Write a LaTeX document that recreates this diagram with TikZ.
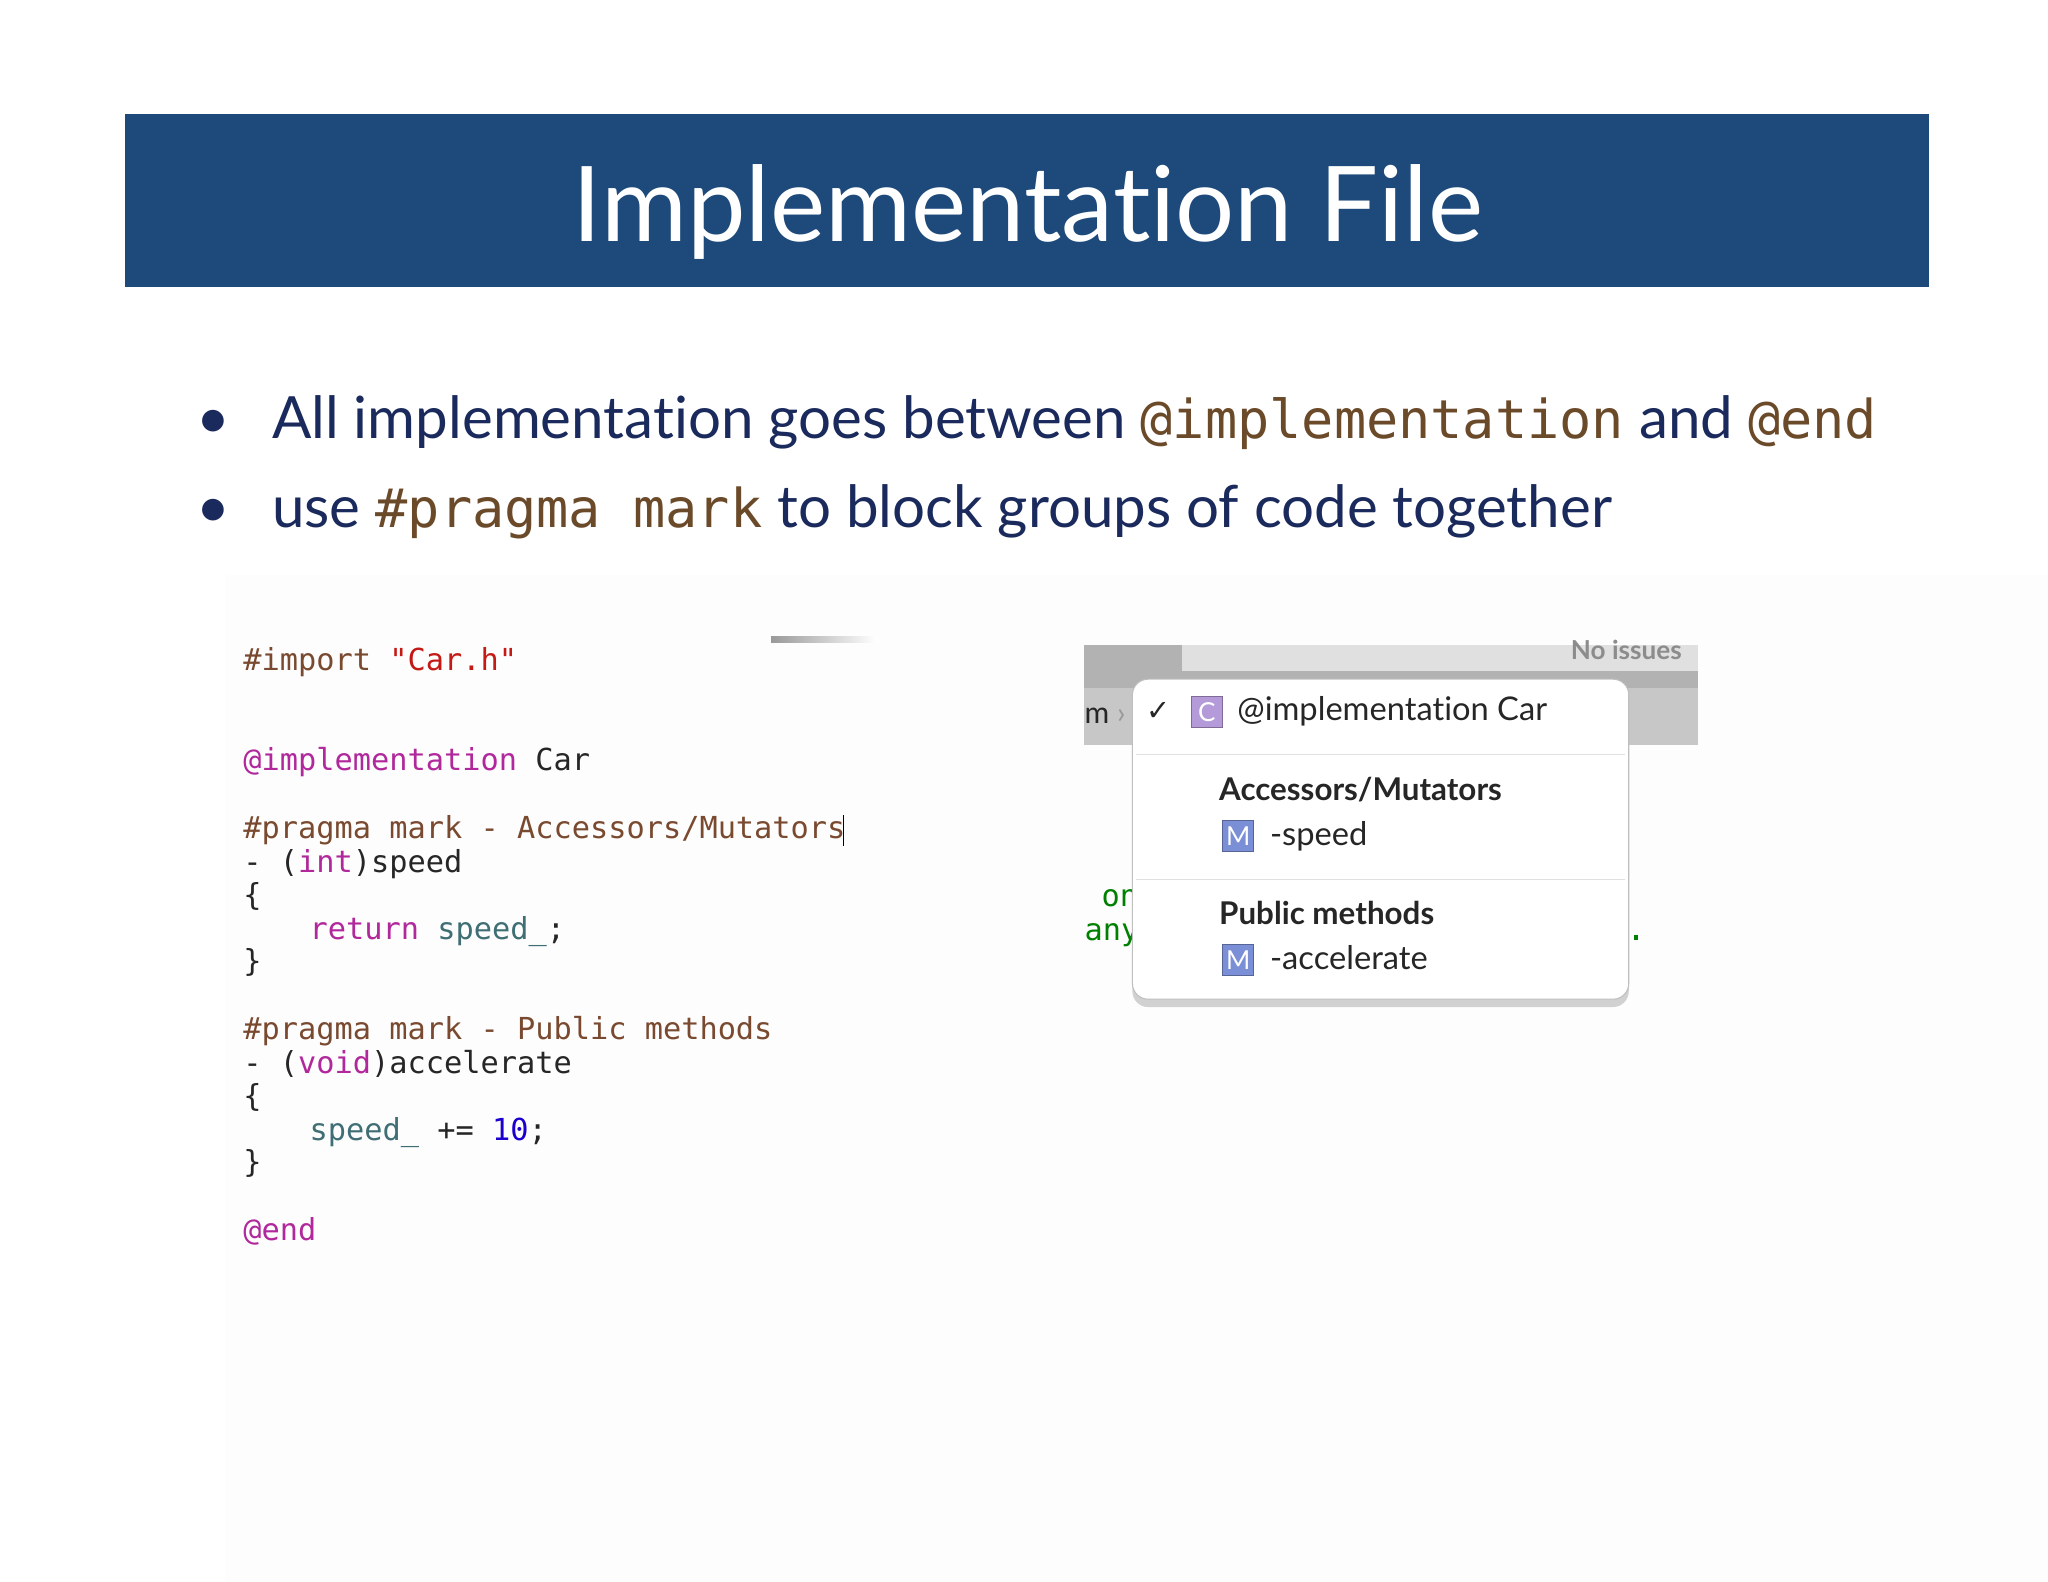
\documentclass[tikz,border=0pt]{standalone}
\usepackage{fontspec}
\setmainfont[Ligatures=NoCommon]{Lato}
\setmonofont{DejaVu Sans Mono}
\newfontfamily\symfont{DejaVu Sans}
\usetikzlibrary{shadows,fadings}
\definecolor{band}{HTML}{1D4A7B}
\definecolor{navy}{HTML}{1B2A5C}
\definecolor{codebrown}{HTML}{6B4A2A}
\definecolor{kwpink}{HTML}{B0289B}
\definecolor{strred}{HTML}{C41A16}
\definecolor{pragma}{HTML}{7A4A30}
\definecolor{teal}{HTML}{3F6E74}
\definecolor{numblue}{HTML}{1C00CF}
\definecolor{iconM}{HTML}{7B8FD6}
\definecolor{iconC}{HTML}{B49AD8}
\tikzset{
 code/.style={anchor=base west,inner sep=0,font=\ttfamily\fontsize{11.6}{14}\selectfont,text=black!85},
 bul/.style={anchor=base west,inner sep=0,font=\fontsize{22.3}{26}\selectfont,text=navy},
 menu/.style={anchor=base west,inner sep=0,font=\fontsize{11.5}{13}\selectfont,text=black!85},
 ico/.style={draw=iconM!70!black,fill=iconM,text=white,minimum size=12pt,inner sep=0,font=\fontsize{10}{10}\selectfont},
}
\begin{document}
\begin{tikzpicture}[x=0.5pt,y=-0.5pt]
\useasboundingbox (0,0) rectangle (1568,1211);
\fill[white] (0,0) rectangle (1568,1211);
\fill[black!0.8] (172,440) rectangle (1568,1211);
\fill[band] (96,87) rectangle (1477,220);
\node (title) [text=white,font=\fontsize{40}{46}\selectfont] at (787,162) {Implementation File};
\node (b1) [bul] at (150,336) {•};
\node (l1) [bul] at (208,336) {All implementation goes between \textcolor{codebrown}{\ttfamily\fontsize{20.5}{26}\selectfont @implementation} and \textcolor{codebrown}{\ttfamily\fontsize{20.5}{26}\selectfont @end}};
\node (b2) [bul] at (150,404) {•};
\node (l2) [bul] at (208,404) {use \textcolor{codebrown}{\ttfamily\fontsize{20.5}{26}\selectfont \#pragma mark} to block groups of code together};
% code
\fill[black!40,path fading=east] (590,487) rectangle (669,492);
\node (c1) [code] at (186,513) {\textcolor{pragma}{\#import} \textcolor{strred}{"Car.h"}};
\node (c2) [code] at (186,590) {\textcolor{kwpink}{@implementation} Car};
\node (c3) [code] at (186,642) {\textcolor{pragma}{\#pragma mark - Accessors/Mutators}};
\draw (646,624) -- (646,648);
\node (c4) [code] at (186,668) {- (\textcolor{kwpink}{int})speed};
\node (c5) [code] at (186,693) {\{};
\node (c6) [code] at (186,719) {\hspace*{4ex}\textcolor{kwpink}{return} \textcolor{teal}{speed\_};};
\node (c7) [code] at (186,744) {\}};
\node (c8) [code] at (186,796) {\textcolor{pragma}{\#pragma mark - Public methods}};
\node (c9) [code] at (186,822) {- (\textcolor{kwpink}{void})accelerate};
\node (c10) [code] at (186,847) {\{};
\node (c11) [code] at (186,873) {\hspace*{4ex}\textcolor{teal}{speed\_} += \textcolor{numblue}{10};};
\node (c12) [code] at (186,898) {\}};
\node (c13) [code] at (186,950) {\textcolor{kwpink}{@end}};
% popup background
\fill[black!30] (830,494) rectangle (1300,570);
\fill[black!12] (905,494) rectangle (1300,514);
\fill[black!22] (830,527) rectangle (1300,570);
\node (noi) [anchor=base east,inner sep=0,text=black!45,font=\fontsize{10}{10}\bfseries\selectfont] at (1288,505) {No issues};
\node (m) [menu] at (830,554) {m \textcolor{black!40}{›}};
\node (on) [code,text=green!50!black] at (843,694) {on};
\node (any) [code,text=green!50!black] at (830,720) {any};
\fill[green!50!black] (1251,716) rectangle (1254,720);
% menu
\draw[black!25,fill=white,rounded corners=6pt,drop shadow={shadow xshift=0pt,shadow yshift=-3pt,opacity=0.35}] (867,520) rectangle (1247,765);
\draw[black!12] (870,578) -- (1244,578);
\draw[black!12] (870,673) -- (1244,673);
\node (chk) [menu,font=\symfont\fontsize{11}{11}\selectfont] at (877,552) {✓};
\node (ic) [ico,draw=iconC!70!black,fill=iconC] at (924,545) {C};
\node (t1) [menu,font=\fontsize{12.5}{14}\selectfont] at (947,552) {@implementation Car};
\node (t2) [menu,font=\bfseries\fontsize{12}{14}\selectfont] at (933,613) {Accessors/Mutators};
\node (im1) [ico] at (948,640) {M};
\node (t3) [menu,font=\fontsize{12.5}{14}\selectfont] at (972,647) {-speed};
\node (t4) [menu,font=\bfseries\fontsize{12}{14}\selectfont] at (933,708) {Public methods};
\node (im2) [ico] at (948,735) {M};
\node (t5) [menu,font=\fontsize{12.5}{14}\selectfont] at (972,742) {-accelerate};
\end{tikzpicture}
\end{document}
